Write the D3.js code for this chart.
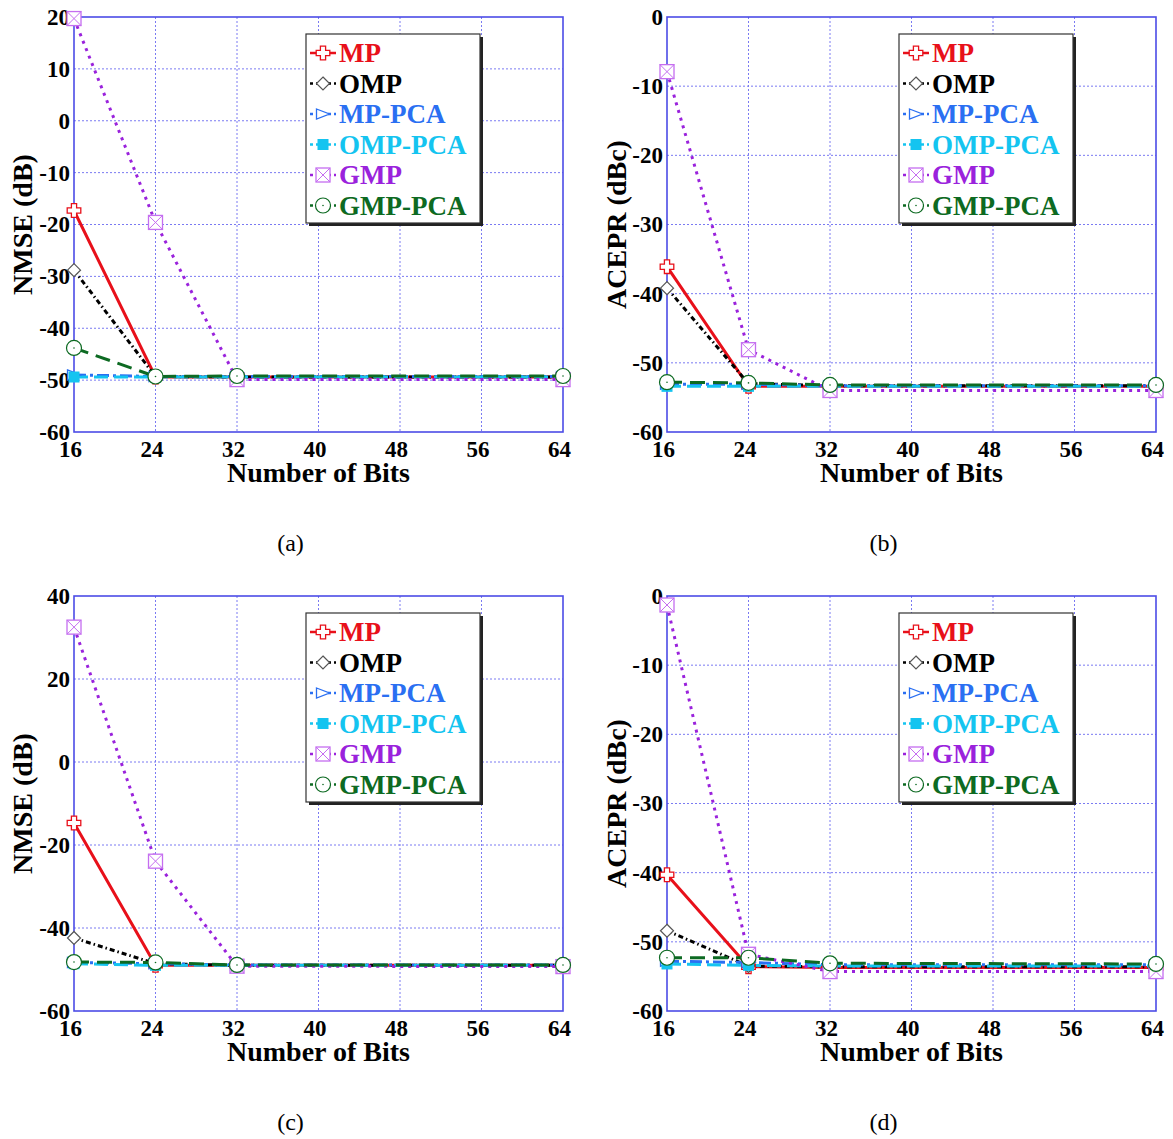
<!DOCTYPE html>
<html>
<head>
<meta charset="utf-8">
<script src="https://cdn.jsdelivr.net/npm/d3@7"></script>
<style>
body { margin:0; background:#fff; }
text { font-family: "Liberation Serif", "Times New Roman", serif; }
</style>
</head>
<body>
<svg id="drawing_region"></svg>
<script>
// x values (number of bits) and tick labels
const bits = [16, 24, 32, 64];
const xticks = [16, 24, 32, 40, 48, 56, 64];
const names = ['MP', 'OMP', 'MP-PCA', 'OMP-PCA', 'GMP', 'GMP-PCA'];

// rows follow the order of names
const nmse_a = [
    [-17.3, -49.4, -49.4, -49.4],
    [-28.8, -49.3, -49.4, -49.4],
    [-49.0, -49.3, -49.3, -49.3],
    [-49.4, -49.4, -49.4, -49.4],
    [ 19.7, -19.6, -49.9, -49.9],
    [-43.8, -49.3, -49.2, -49.2]
];
const acepr_b = [
    [-36.1, -53.4, -53.4, -53.4],
    [-39.2, -53.0, -53.3, -53.3],
    [-53.1, -53.1, -53.3, -53.3],
    [-53.4, -53.4, -53.4, -53.4],
    [ -7.9, -48.1, -54.0, -54.0],
    [-52.8, -52.9, -53.2, -53.2]
];
const nmse_c = [
    [-14.7, -49.0, -49.0, -49.0],
    [-42.4, -48.6, -49.0, -49.0],
    [-48.3, -48.6, -48.9, -48.9],
    [-48.6, -49.0, -49.0, -49.0],
    [ 32.5, -23.9, -49.2, -49.3],
    [-48.2, -48.3, -48.9, -48.9]
];
const acepr_d = [
    [-40.3, -53.6, -53.7, -53.7],
    [-48.4, -53.5, -53.6, -53.6],
    [-52.8, -53.0, -53.3, -53.3],
    [-53.2, -53.4, -53.5, -53.5],
    [ -1.3, -51.8, -54.3, -54.3],
    [-52.3, -52.3, -53.1, -53.2]
];

const yticks_a = [-60, -50, -40, -30, -20, -10, 0, 10, 20];
const yticks_b = [-60, -50, -40, -30, -20, -10, 0];
const yticks_c = [-60, -40, -20, 0, 20, 40];
const yticks_d = [-60, -50, -40, -30, -20, -10, 0];

// look of each series
const styles = {
    'MP':      {color:'#e8101a', dash:null,        marker:'cross'},
    'OMP':     {color:'#000000', dash:'5,3,1.5,3', marker:'diamond'},
    'MP-PCA':  {color:'#2a6ff2', dash:'12,4,3,4',  marker:'triangle'},
    'OMP-PCA': {color:'#14c4f0', dash:'14,6',      marker:'square'},
    'GMP':     {color:'#9a22dc', dash:'3,5',       marker:'boxx'},
    'GMP-PCA': {color:'#0d6a22', dash:'15,8',      marker:'circle'}
};

const svg = d3.select('#drawing_region')
    .attr('width', 1173)
    .attr('height', 1139);

function drawMarker(g, type, color) {
    if (type == 'cross') {
        const w = 2.6, r = 6.8;
        g.append('path')
            .attr('d', `M${-w},${-r}L${w},${-r}L${w},${-w}L${r},${-w}L${r},${w}L${w},${w}L${w},${r}L${-w},${r}L${-w},${w}L${-r},${w}L${-r},${-w}L${-w},${-w}Z`)
            .attr('fill', '#fff').attr('stroke', color).attr('stroke-width', 1.3);
    } else if (type == 'diamond') {
        g.append('path').attr('d', 'M0,-6.5L6.5,0L0,6.5L-6.5,0Z')
            .attr('fill', '#fff').attr('stroke', '#555').attr('stroke-width', 1.2);
    } else if (type == 'triangle') {
        g.append('path').attr('d', 'M-6.5,-5L6.5,0L-6.5,5Z')
            .attr('fill', '#fff').attr('stroke', color).attr('stroke-width', 1.3);
    } else if (type == 'square') {
        g.append('rect').attr('x', -5.5).attr('y', -5.5).attr('width', 11).attr('height', 11)
            .attr('fill', color);
    } else if (type == 'boxx') {
        const c = '#c56ef0';
        g.append('rect').attr('x', -7).attr('y', -7).attr('width', 14).attr('height', 14)
            .attr('fill', '#fff').attr('stroke', c).attr('stroke-width', 1.3);
        g.append('path').attr('d', 'M-7,-7L7,7M-7,7L7,-7')
            .attr('stroke', c).attr('stroke-width', 1);
    } else if (type == 'circle') {
        g.append('circle').attr('r', 7.5)
            .attr('fill', '#fff').attr('stroke', color).attr('stroke-width', 1.2);
        g.append('circle').attr('r', 0.8).attr('fill', color);
    }
}

function drawPanel(config, values) {
    const w = 489, h = 415;
    const chart = svg.append('g')
        .attr('transform', `translate(${config.left}, ${config.top})`);

    const xscale = d3.scaleLinear().domain([16, 64]).range([0, w]);
    const yscale = d3.scaleLinear().domain(config.ydomain).range([h, 0]);

    // grid
    chart.append('g')
        .selectAll('line')
        .data(xticks.slice(1, -1))
        .join('line')
        .attr('x1', d => xscale(d)).attr('x2', d => xscale(d))
        .attr('y1', 0).attr('y2', h)
        .attr('stroke', '#7a7af2').attr('stroke-width', 1).attr('stroke-dasharray', '2,2');
    chart.append('g')
        .selectAll('line')
        .data(config.yticks.slice(1, -1))
        .join('line')
        .attr('x1', 0).attr('x2', w)
        .attr('y1', d => yscale(d)).attr('y2', d => yscale(d))
        .attr('stroke', '#7a7af2').attr('stroke-width', 1).attr('stroke-dasharray', '2,2');

    chart.append('rect')
        .attr('width', w).attr('height', h)
        .attr('fill', 'none').attr('stroke', '#4c4ce6').attr('stroke-width', 1.6);

    // axes (plain hyphen for negatives, like the original)
    const xaxis = d3.axisBottom(xscale).tickValues(xticks).tickSize(0).tickPadding(9)
        .tickFormat(d => String(d));
    const xg = chart.append('g').attr('transform', `translate(-4, ${h})`).call(xaxis);
    xg.select('.domain').remove();
    xg.selectAll('text')
        .attr('font-family', '"Liberation Serif", serif')
        .attr('font-size', 23).attr('font-weight', 'bold').attr('fill', '#000');

    const yaxis = d3.axisLeft(yscale).tickValues(config.yticks).tickSize(0).tickPadding(4)
        .tickFormat(d => String(d));
    const yg = chart.append('g').call(yaxis);
    yg.select('.domain').remove();
    yg.selectAll('text')
        .attr('font-family', '"Liberation Serif", serif')
        .attr('font-size', 23).attr('font-weight', 'bold').attr('fill', '#000');

    chart.append('text')
        .attr('x', w / 2).attr('y', h + 50)
        .attr('text-anchor', 'middle')
        .attr('font-size', 28).attr('font-weight', 'bold')
        .text('Number of Bits');

    chart.append('text')
        .attr('transform', `translate(${config.ylabelx}, ${h / 2}) rotate(-90)`)
        .attr('text-anchor', 'middle')
        .attr('dominant-baseline', 'central')
        .attr('font-size', 28).attr('font-weight', 'bold')
        .text(config.ylabel);

    chart.append('text')
        .attr('x', w / 2 - 28).attr('y', h + 119)
        .attr('text-anchor', 'middle')
        .attr('font-size', 24)
        .text(config.caption);

    // series
    const line = d3.line()
        .x((d, i) => xscale(bits[i]))
        .y(d => yscale(d));

    names.forEach((name, k) => {
        const s = styles[name];
        chart.append('path')
            .datum(values[k])
            .attr('d', line)
            .attr('fill', 'none')
            .attr('stroke', s.color)
            .attr('stroke-width', 3)
            .attr('stroke-dasharray', s.dash);
    });
    names.forEach((name, k) => {
        const s = styles[name];
        values[k].forEach((v, i) => {
            const g = chart.append('g')
                .attr('transform', `translate(${xscale(bits[i])}, ${yscale(v)})`);
            drawMarker(g, s.marker, s.color);
        });
    });

    // legend
    const lg = chart.append('g').attr('transform', 'translate(232, 17)');
    lg.append('rect').attr('x', 3).attr('y', 3).attr('width', 174).attr('height', 189).attr('fill', '#222');
    lg.append('rect').attr('width', 174).attr('height', 189)
        .attr('fill', '#fff').attr('stroke', '#333').attr('stroke-width', 1.2);
    names.forEach((name, k) => {
        const s = styles[name];
        const cy = 19 + k * 30.5;
        lg.append('line')
            .attr('x1', 4).attr('x2', 30).attr('y1', cy).attr('y2', cy)
            .attr('stroke', s.color).attr('stroke-width', 2.5)
            .attr('stroke-dasharray', s.dash ? '3,3' : null);
        const g = lg.append('g').attr('transform', `translate(17, ${cy})`);
        drawMarker(g, s.marker, s.color);
        lg.append('text')
            .attr('x', 33).attr('y', cy + 9)
            .attr('font-size', 27).attr('font-weight', 'bold')
            .attr('fill', s.color)
            .text(name);
    });
}

drawPanel({left:74,  top:17,  ydomain:[-60, 20], yticks:yticks_a, ylabel:'NMSE (dB)',   ylabelx:-52, caption:'(a)'}, nmse_a);
drawPanel({left:667, top:17,  ydomain:[-60, 0],  yticks:yticks_b, ylabel:'ACEPR (dBc)', ylabelx:-51, caption:'(b)'}, acepr_b);
drawPanel({left:74,  top:596, ydomain:[-60, 40], yticks:yticks_c, ylabel:'NMSE (dB)',   ylabelx:-52, caption:'(c)'}, nmse_c);
drawPanel({left:667, top:596, ydomain:[-60, 0],  yticks:yticks_d, ylabel:'ACEPR (dBc)', ylabelx:-51, caption:'(d)'}, acepr_d);
</script>
</body>
</html>
